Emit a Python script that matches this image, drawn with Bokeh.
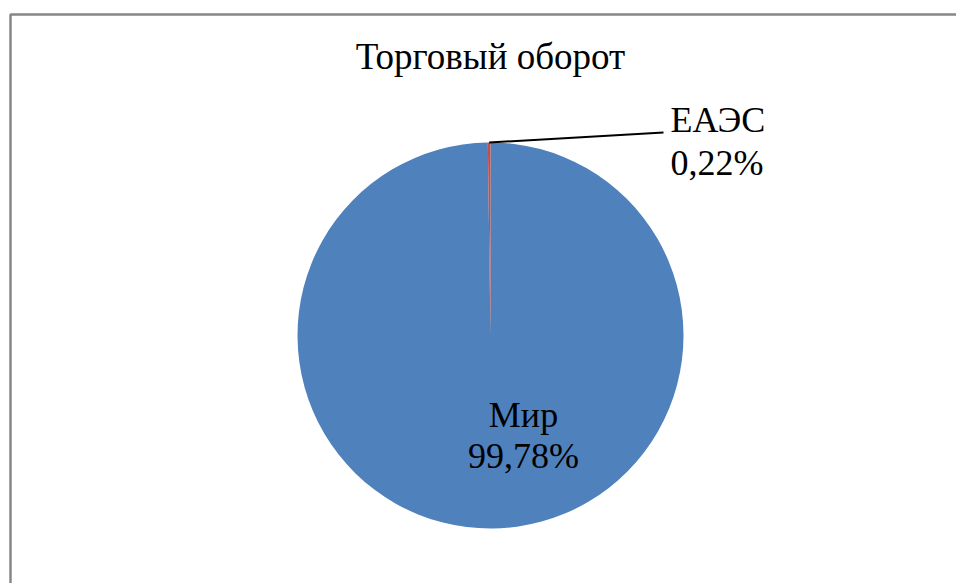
import math
from bokeh.plotting import figure
from bokeh.models import Range1d, ColumnDataSource
from bokeh.embed import file_html
from bokeh.resources import INLINE
from bokeh.core.properties import value

title = "Торговый оборот"
categories = ["Мир", "ЕАЭС"]
shares = [99.78, 0.22]
colors = ["#4F81BD", "#C0504D"]

W, H = 956, 583
p = figure(width=W, height=H, output_backend="svg", toolbar_location=None,
           x_range=Range1d(0, W), y_range=Range1d(0, H), min_border=0)
p.axis.visible = False
p.grid.visible = False
p.outline_line_color = None
p.background_fill_color = "white"

# chart area border (left and top edges visible)
p.line(x=[10, 10, W + 20], y=[-20, H - 14, H - 14], line_color="#878787", line_width=2.5)

cx, cy, r = 490, 248, 193
total = sum(shares)
starts, ends, mids = [], [], []
cum = 0.0
for s in shares:
    a0 = math.pi / 2 - 2 * math.pi * cum / total
    cum += s
    a1 = math.pi / 2 - 2 * math.pi * cum / total
    starts.append(a0)
    ends.append(a1)
    mids.append((a0 + a1) / 2)

src = ColumnDataSource(dict(start=starts, end=ends, color=colors))
p.wedge(x=cx, y=cy, radius=r, start_angle="start", end_angle="end",
        direction="clock", fill_color="color", line_color=None, source=src)

font = value("Liberation Serif")

def fmt(v):
    return f"{v:.2f}".replace(".", ",") + "%"

# title
p.text(x=[cx], y=[527], text=[title], text_font=font, text_font_size="37px",
       text_align="center", text_baseline="alphabetic", text_color="black")

# inside label for the large slice
p.text(x=[523], y=[169], text=[categories[0]], text_font=font, text_font_size="36px",
       text_align="center", text_baseline="alphabetic", text_color="black")
p.text(x=[523], y=[128], text=[fmt(shares[0])], text_font=font, text_font_size="36px",
       text_align="center", text_baseline="alphabetic", text_color="black")

# outside label for the small slice with leader line
m = mids[1]
tipx, tipy = cx + r * math.cos(m), cy + r * math.sin(m)
p.line(x=[tipx, 663], y=[tipy, 451], line_color="black", line_width=2)
p.text(x=[670], y=[464], text=[categories[1]], text_font=font, text_font_size="36px",
       text_align="left", text_baseline="alphabetic", text_color="black")
p.text(x=[670], y=[421], text=[fmt(shares[1])], text_font=font, text_font_size="36px",
       text_align="left", text_baseline="alphabetic", text_color="black")

open("out.html", "w").write(file_html(p, INLINE))
